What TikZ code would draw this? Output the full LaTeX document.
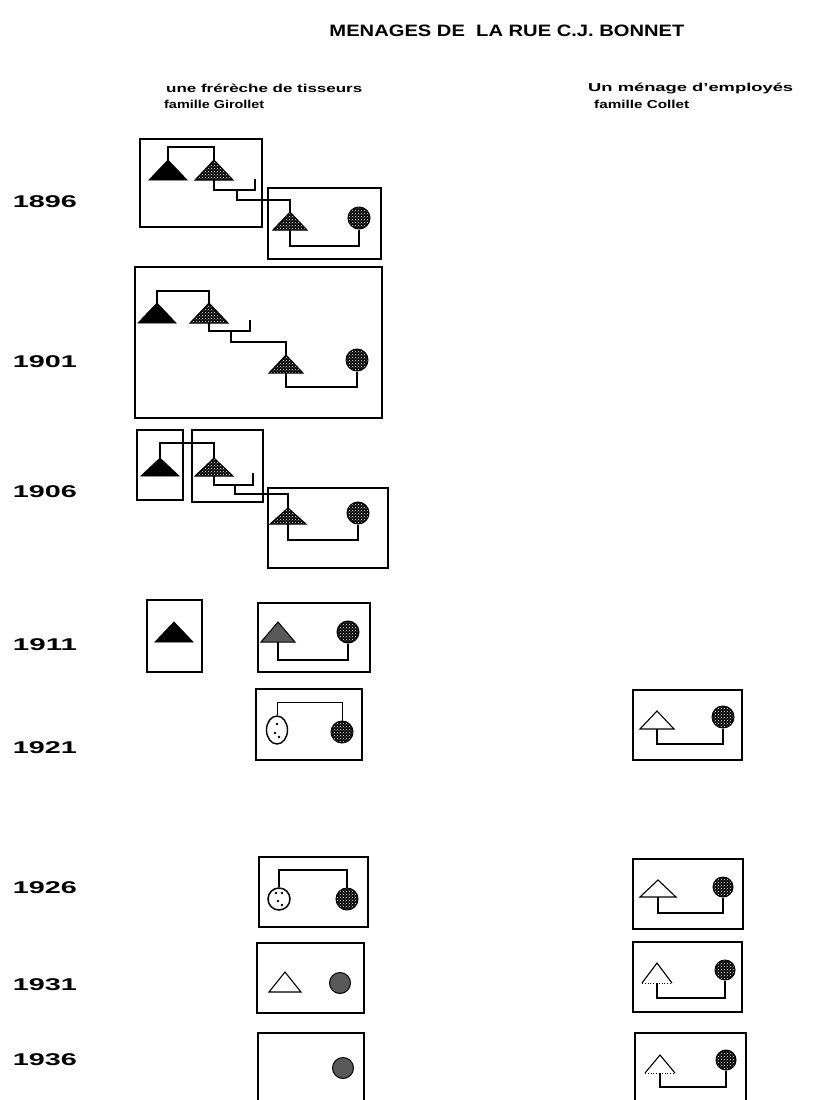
\documentclass[tikz,border=0pt]{standalone}
\usepackage{fontspec}
\setmainfont{Liberation Sans}
\usetikzlibrary{patterns,shapes.geometric,calc}
% triangle: [style]{name}{x}{y apex}{half width}{height}
\newcommand\Tri[6][]{%
  \coordinate (#2) at (#3,#4);
  \coordinate (#2b) at (#3,#4+#6);
  \draw[#1] (#2) -- ++(#5,#6) -- ++(-2*#5,0) -- cycle;}
\newcommand\fitw[2]{\resizebox{#1}{\height}{#2}}
\begin{document}
\begin{tikzpicture}[x=1pt,y=-1pt,
  box/.style={draw, line width=2.1pt},
  link/.style={line width=1.6pt},
  thinlink/.style={line width=0.9pt},
  solidtri/.style={fill=black, draw=black, line width=0.8pt, line join=miter},
  darkfill/.style={preaction={fill=black}, pattern=crosshatch dots, pattern color=white, draw=black, line width=1pt},
  greyfill/.style={fill=black!65, draw=black, line width=1pt},
  whitetri/.style={draw=black, line width=1.1pt, fill=white},
  circ/.style={circle, draw, line width=1pt, minimum size=22pt, inner sep=0pt},
  yr/.style={font=\bfseries\fontsize{17}{17}\selectfont, inner sep=0pt},
  hdr/.style={font=\bfseries\fontsize{11.5}{11.5}\selectfont, inner sep=0pt, anchor=west},
]
\useasboundingbox (0,0) rectangle (834,1100);

% ---- title and headers
\node[font=\bfseries\fontsize{16.5}{16.5}\selectfont, inner sep=0pt] (title) at (507,31)
  {\fitw{355pt}{MENAGES DE\ \ LA RUE C.J. BONNET}};
\node[hdr] (h1) at (166,88) {\fitw{196pt}{une frérèche de tisseurs}};
\node[hdr] (h2) at (164,104) {\fitw{100pt}{famille Girollet}};
\node[hdr] (h3) at (588,88) {\fitw{205pt}{Un ménage d'employés}};
\node[hdr] (h4) at (594,104) {\fitw{95pt}{famille Collet}};

% ---- years
\node[yr] (y1) at (45,202) {\fitw{64pt}{1896}};
\node[yr] (y2) at (45,362) {\fitw{64pt}{1901}};
\node[yr] (y3) at (45,492) {\fitw{64pt}{1906}};
\node[yr] (y4) at (45,645) {\fitw{64pt}{1911}};
\node[yr] (y5) at (45,748) {\fitw{64pt}{1921}};
\node[yr] (y6) at (45,888) {\fitw{64pt}{1926}};
\node[yr] (y7) at (45,985) {\fitw{64pt}{1931}};
\node[yr] (y8) at (45,1060) {\fitw{64pt}{1936}};

% ================= 1896
\draw[box] (140,139) rectangle (262,227);
\draw[box] (268,188) rectangle (381,259);
\Tri[solidtri]{a1}{168}{160}{19}{20}
\Tri[darkfill]{a2}{214}{160}{19}{20}
\Tri[darkfill]{a3}{290}{212}{17}{18}
\node[circ, darkfill] (ac) at (359,218) {};
\coordinate (ae) at (255,179);
\coordinate (aj) at (237,190);
\draw[link] (a1) -- ++(0,-13) -| (a2);
\draw[link] (a2b) -- ++(0,10) -| (ae);
\draw[link] (aj) -- ++(0,10) -| (a3);
\draw[link] (a3b) -- ++(0,16) -| (ac.south);

% ================= 1901
\draw[box] (135,267) rectangle (382,418);
\Tri[solidtri]{b1}{157}{303}{19}{20}
\Tri[darkfill]{b2}{209}{303}{19}{20}
\Tri[darkfill]{b3}{286}{355}{17}{18}
\node[circ, darkfill] (bc) at (357,360) {};
\coordinate (be) at (250,320);
\coordinate (bj) at (231,331);
\draw[link] (b1) -- ++(0,-12) -| (b2);
\draw[link] (b2b) -- ++(0,8) -| (be);
\draw[link] (bj) -- ++(0,11) -| (b3);
\draw[link] (b3b) -- ++(0,14) -| (bc.south);

% ================= 1906
\draw[box] (137,430) rectangle (183,500);
\draw[box] (192,430) rectangle (263,502);
\draw[box] (268,488) rectangle (388,568);
\Tri[solidtri]{c1}{160}{458}{19}{18}
\Tri[darkfill]{c2}{214}{458}{19}{18}
\Tri[darkfill]{c3}{288}{508}{18}{16}
\node[circ, darkfill] (cc) at (358,513) {};
\coordinate (ce) at (253,473);
\coordinate (cj) at (235,485);
\draw[link] (c1) -- ++(0,-15) -| (c2);
\draw[link] (c2b) -- ++(0,9) -| (ce);
\draw[link] (cj) -- ++(0,9) -| (c3);
\draw[link] (c3b) -- ++(0,16) -| (cc.south);

% ================= 1911
\draw[box] (147,600) rectangle (202,672);
\draw[box] (258,603) rectangle (370,672);
\Tri[solidtri]{d1}{174}{622}{19}{20}
\Tri[greyfill]{d2}{278}{622}{17}{20}
\node[circ, darkfill] (dc) at (348,632) {};
\draw[link] (d2b) -- ++(0,18) -| (dc.south);

% ================= 1921
\draw[box] (256,689) rectangle (362,760);
\node[ellipse, draw, line width=1.4pt, minimum width=21pt, minimum height=28pt, inner sep=0pt] (eo) at (277,730) {};
\fill (277,724) circle (1.3) (275,733) circle (1.3) (279,737) circle (1.3);
\node[circ, darkfill] (ec) at (342,732) {};
\draw[thinlink] (eo.north) -- ++(0,-13) -| (ec.north);
\draw[box] (633,690) rectangle (742,760);
\Tri[whitetri]{f1}{657}{711}{17}{18}
\node[circ, darkfill] (fc) at (723,717) {};
\draw[link] (f1b) -- ++(0,15) -| (fc.south);

% ================= 1926
\draw[box] (259,857) rectangle (368,927);
\node[circ, line width=1.5pt] (go) at (279,899) {};
\fill (276,893) circle (1.4) (282,893) circle (1.4) (278,901) circle (1.4) (282,905) circle (1.4);
\node[circ, darkfill] (gc) at (347,899) {};
\draw[link] (go.north) -- ++(0,-17) -| (gc.north);
\draw[box] (633,859) rectangle (743,929);
\Tri[whitetri]{h1}{658}{880}{18}{17}
\node[circ, darkfill, minimum size=20pt] (hc) at (723,887) {};
\draw[link] (h1b) -- ++(0,16) -| (hc.south);

% ================= 1931
\draw[box] (257,943) rectangle (364,1013);
\Tri[whitetri]{i1}{285}{972}{16}{20}
\node[circ, greyfill, minimum size=21pt] (ic) at (340,983) {};
\draw[box] (633,942) rectangle (742,1012);
\coordinate (j1) at (657,963);
\coordinate (j1b) at (657,983);
\draw[line width=1.1pt] ($(j1)+(-15,20)$) -- (j1) -- ($(j1)+(15,20)$);
\draw[line width=0.8pt, dotted] ($(j1)+(-15,20)$) -- ($(j1)+(15,20)$);
\node[circ, darkfill, minimum size=20pt] (jc) at (725,970) {};
\draw[link] (j1b) -- ++(0,15) -| (jc.south);

% ================= 1936
\draw[box] (258,1103) -- (258,1033) -- (364,1033) -- (364,1103);
\node[circ, greyfill, minimum size=21pt] (kc) at (343,1068) {};
\draw[box] (635,1103) -- (635,1033) -- (746,1033) -- (746,1103);
\coordinate (l1) at (660,1055);
\coordinate (l1b) at (660,1073);
\draw[line width=1.1pt] ($(l1)+(-15,18)$) -- (l1) -- ($(l1)+(15,18)$);
\draw[line width=0.8pt, dotted] ($(l1)+(-15,18)$) -- ($(l1)+(15,18)$);
\node[circ, darkfill, minimum size=20pt] (lc) at (726,1060) {};
\draw[link] (l1b) -- ++(0,14) -| (lc.south);
\end{tikzpicture}
\end{document}
